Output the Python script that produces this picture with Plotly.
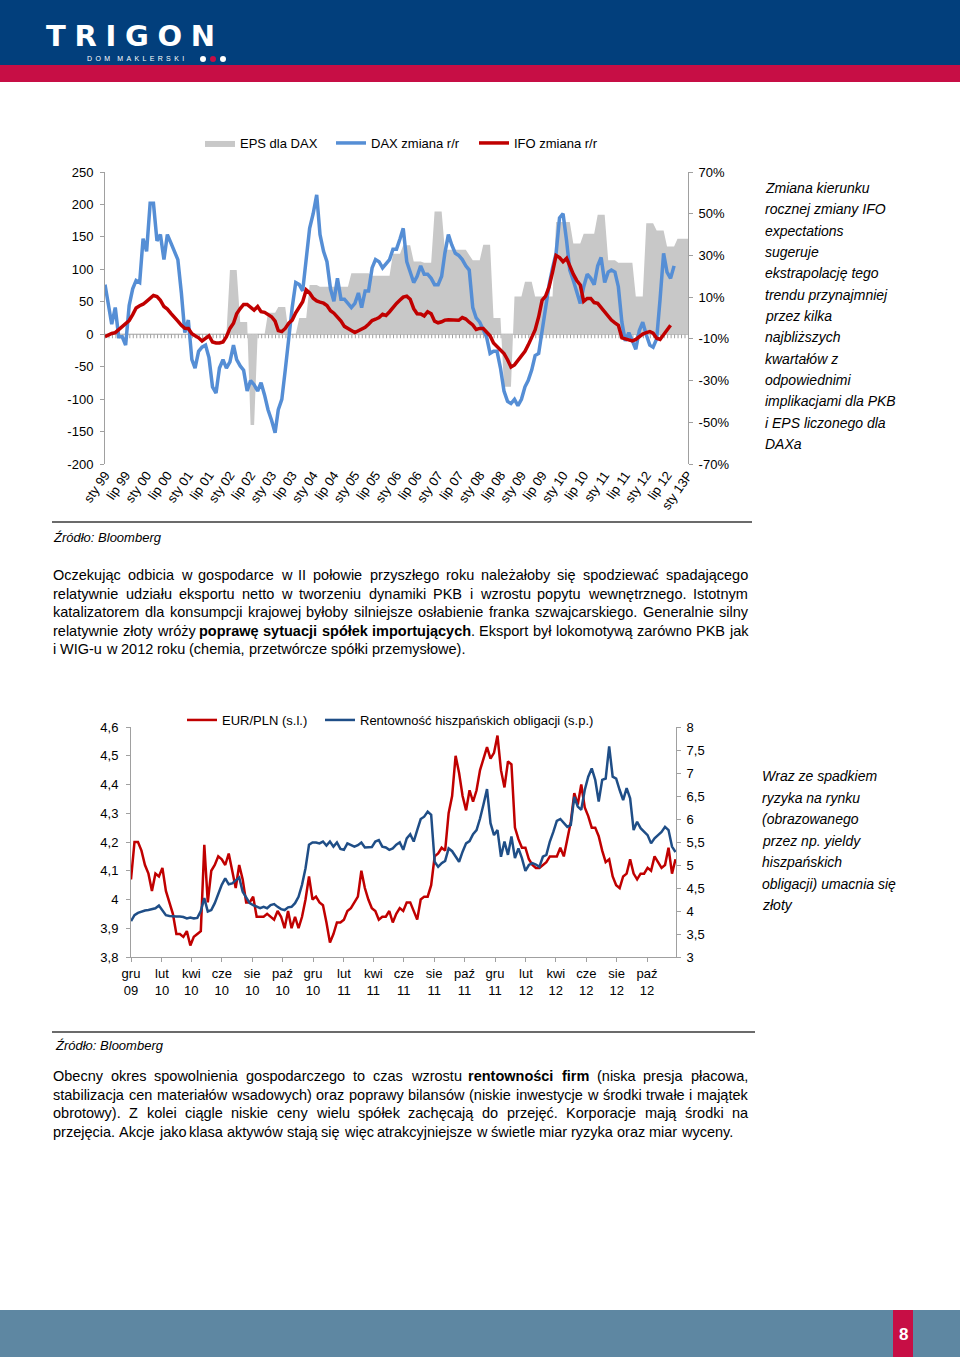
import plotly.graph_objects as go
import pandas as pd

W, H = 960, 1357
F = "Liberation Sans, Arial, sans-serif"

# ---------------- Chart 1 data (monthly) ----------------
ch1_start = "1999-01-01"
dax_yoy = [16, 5, -3, 5, -9, -9, -13, 6, 14, 18, 17, 38,
           32, 55, 55, 37, 40, 28, 40, 36, 32, 28, 12, -7,
           -1, -20, -24, -16, -14, -13, -19, -33, -36, -24, -20, -24,
           -21, -13, -20, -23, -25, -35, -30, -32, -35, -31, -37, -44,
           -49, -55, -44, -39, -25, -9, 5, 17, 16, 13, 28, 43,
           50, 59, 40, 32, 27, 14, 8, 19, 9, 9, 7, 5,
           7, 12, 5, 13, 13, 24, 28, 27, 24, 26, 28, 33,
           33, 38, 43, 27, 22, 17, 20, 25, 21, 21, 19, 16,
           16, 20, 31, 40, 35, 31, 30, 28, 25, 23, 5, 0,
           -2, -6, -9, -17, -16, -16, -24, -35, -40, -41, -39, -42,
           -39, -33, -30, -25, -18, -17, -6, 6, 16, 24, 31, 48,
           50, 37, 23, 18, 13, 7, 15, 21, 19, 16, 25, 29,
           17, 22, 23, 22, 15, -2, -11, -7, -11, -15, -6, -2,
           -8, -13, -14, -10, 9, 31, 22, 19, 25]
ifo_yoy = [-8.9, -8, -7.4, -7, -5.5, -4, -3, -1.2, 1.6, 4.8, 5.9, 6.6,
           8, 9.5, 10.8, 10.3, 8.5, 5.5, 4.3, 2.2, 0, -1.5, -3.5, -4.9,
           -5, -7.5, -8.5, -9.5, -11, -9.5, -8.5, -11.5, -12, -12, -11.5, -9,
           -5, -2.5, 2, 4.5, 6.5, 6.5, 5, 3.8, 5.5, 3, 2.7, 1.5,
           0.6, -1.5, -6, -6.5, -5, -2.5, -1, 2.5, 5, 7.8, 13.5, 12,
           9.5, 8.2, 7.6, 7.1, 6, 3.5, 2.3, 0.5, -1.5, -4, -4.8, -6,
           -7, -6.2, -5.5, -4.5, -3, -1.2, -0.6, 0.2, 1.8, 1.2, 3, 5.2,
           7, 8.6, 10, 10.5, 9, 4.5, 2, 1.9, 1, 3, 2, -1.5,
           -2.3, -1.8, -1, -0.8, -0.9, -0.9, -1.1, 0.2, -0.5, -2, -3.3, -5.5,
           -5, -5, -7, -8.5, -12, -13.5, -15.5, -17, -20, -23.5, -22.5, -20.5,
           -18.5, -16, -13, -9.5, -5.7, 0.6, 8.5, 10.5, 15, 22, 30, 29,
           27, 28.6, 24.6, 21, 18, 15.8, 8, 9.4, 9.4, 7.4, 7, 5,
           2.5, 1, -1, -2.3, -3.5, -9.5, -10, -10.5, -11, -10.3, -8.7, -7.7,
           -7, -6.5, -7.3, -9.7, -10.3, -8, -6, -3.5]
eps_start = "2001-12-01"
eps_dax = [0, 99, 99, 99, 19, 19, 19, -140, -140, 0, 0, 0,
           33, 33, 33, 42, 42, 42, 0, 0, 0, 25, 25, 25,
           76, 76, 76, 73, 73, 73, 73, 73, 73, 73, 73, 73,
           94, 94, 94, 94, 94, 94, 90, 90, 90, 90, 90, 90,
           124, 124, 124, 137, 137, 137, 112, 112, 112, 110, 110, 110,
           189, 189, 189, 130, 130, 130, 130, 130, 130, 130, 122, 114,
           114, 114, 138, 138, 138, 25, 25, 25, -81, -81, -81, 58,
           58, 58, 81, 81, 81, 58, 58, 58, 58, 58, 58, 173,
           173, 173, 173, 173, 140, 140, 140, 155, 155, 155, 155, 184,
           184, 184, 114, 114, 114, 110, 110, 110, 110, 110, 58, 58,
           58, 171, 171, 171, 160, 160, 160, 135, 135, 135, 147, 147,
           147, 147]
ch1_tick_labels = ["sty 99", "lip 99", "sty 00", "lip 00", "sty 01", "lip 01", "sty 02", "lip 02",
                   "sty 03", "lip 03", "sty 04", "lip 04", "sty 05", "lip 05", "sty 06", "lip 06",
                   "sty 07", "lip 07", "sty 08", "lip 08", "sty 09", "lip 09", "sty 10", "lip 10",
                   "sty 11", "lip 11", "sty 12", "lip 12", "sty 13P"]
ch1_left_ticks = [-200, -150, -100, -50, 0, 50, 100, 150, 200, 250]
ch1_right_ticks = [-70, -50, -30, -10, 10, 30, 50, 70]

# ---------------- Chart 2 data (weekly) ----------------
ch2_start = "2009-12-01"
eurpln = [4.07, 4.20, 4.20, 4.17, 4.12, 4.09, 4.03, 4.09, 4.08, 4.11,
          4.03, 3.99, 3.95, 3.88, 3.88, 3.87, 3.89, 3.84, 3.87, 3.88,
          3.89, 4.19, 3.99, 4.10, 4.12, 4.15, 4.14, 4.12, 4.16, 4.10,
          4.04, 4.12, 4.07, 3.99, 3.99, 4.01, 3.94, 3.94, 3.94, 3.95,
          3.94, 3.93, 3.96, 3.94, 3.90, 3.96, 3.90, 3.94, 3.90, 3.94,
          4.00, 4.08, 4.00, 4.01, 3.99, 3.98, 3.92, 3.85, 3.88, 3.92,
          3.92, 3.93, 3.96, 3.97, 3.99, 4.01, 4.10, 4.04, 4.00, 3.97,
          3.96, 3.93, 3.94, 3.94, 3.96, 3.92, 3.95, 3.97, 3.96, 3.99,
          3.99, 3.96, 3.93, 4.00, 4.01, 4.01, 4.05, 4.15, 4.16, 4.18,
          4.17, 4.30, 4.36, 4.50, 4.44, 4.36, 4.31, 4.38, 4.34, 4.38,
          4.45, 4.49, 4.53, 4.49, 4.51, 4.57, 4.45, 4.39, 4.48, 4.47,
          4.25, 4.21, 4.18, 4.18, 4.14, 4.12, 4.11, 4.11, 4.12, 4.13,
          4.15, 4.15, 4.15, 4.18, 4.15, 4.21, 4.27, 4.37, 4.33, 4.40,
          4.32, 4.29, 4.25, 4.25, 4.22, 4.17, 4.13, 4.14, 4.08, 4.05,
          4.04, 4.08, 4.09, 4.14, 4.09, 4.07, 4.09, 4.09, 4.11, 4.10,
          4.15, 4.13, 4.11, 4.12, 4.18, 4.09, 4.14]
spain_yield = [3.78, 3.91, 3.96, 3.99, 4.01, 4.02, 4.04, 4.06, 4.12, 4.02,
               3.91, 3.89, 3.88, 3.88, 3.88, 3.87, 3.84, 3.86, 3.84, 3.85,
               4.00, 4.28, 3.99, 4.02, 4.17, 4.38, 4.57, 4.71, 4.58, 4.60,
               4.67, 4.73, 4.42, 4.29, 4.17, 4.13, 4.09, 4.06, 4.09, 4.06,
               4.13, 4.15, 4.09, 4.04, 4.02, 4.08, 4.09, 4.17, 4.31, 4.57,
               4.93, 5.44, 5.49, 5.49, 5.47, 5.51, 5.42, 5.51, 5.40, 5.49,
               5.35, 5.33, 5.47, 5.43, 5.40, 5.43, 5.49, 5.38, 5.38, 5.39,
               5.51, 5.54, 5.40, 5.38, 5.33, 5.36, 5.44, 5.49, 5.33, 5.58,
               5.67, 5.51, 5.76, 6.00, 6.05, 6.16, 6.09, 5.07, 4.96, 5.04,
               5.09, 5.36, 5.30, 5.18, 5.07, 5.29, 5.47, 5.52, 5.67, 5.76,
               6.01, 6.32, 6.65, 5.91, 5.65, 5.76, 5.18, 5.51, 5.22, 5.62,
               5.15, 5.36, 5.15, 4.87, 5.00, 5.04, 5.01, 4.96, 5.18, 5.22,
               5.51, 5.72, 5.96, 6.00, 5.91, 5.83, 5.87, 6.48, 6.27, 6.20,
               6.63, 6.92, 7.10, 6.85, 6.38, 6.85, 6.88, 7.58, 6.92, 6.88,
               6.63, 6.41, 6.67, 6.45, 5.76, 5.94, 5.80, 5.72, 5.65, 5.47,
               5.58, 5.65, 5.72, 5.83, 5.76, 5.40, 5.28]
ch2_tick_labels = ["gru<br>09", "lut<br>10", "kwi<br>10", "cze<br>10", "sie<br>10", "paź<br>10",
                   "gru<br>10", "lut<br>11", "kwi<br>11", "cze<br>11", "sie<br>11", "paź<br>11",
                   "gru<br>11", "lut<br>12", "kwi<br>12", "cze<br>12", "sie<br>12", "paź<br>12"]
ch2_left_ticks = [3.8, 3.9, 4.0, 4.1, 4.2, 4.3, 4.4, 4.5, 4.6]
ch2_left_labels = ["3,8", "3,9", "4", "4,1", "4,2", "4,3", "4,4", "4,5", "4,6"]
ch2_right_ticks = [3, 3.5, 4, 4.5, 5, 5.5, 6, 6.5, 7, 7.5, 8]
ch2_right_labels = ["3", "3,5", "4", "4,5", "5", "5,5", "6", "6,5", "7", "7,5", "8"]

# ---------------- Text ----------------
side_text_1 = ["Zmiana kierunku", "rocznej zmiany IFO", "expectations", "sugeruje",
               "ekstrapolację tego", "trendu przynajmniej", "przez kilka", "najbliższych",
               "kwartałów z", "odpowiednimi", "implikacjami dla PKB", "i EPS liczonego dla", "DAXa"]
side_text_2 = ["Wraz ze spadkiem", "ryzyka na rynku", "(obrazowanego", "przez np. yieldy",
               "hiszpańskich", "obligacji) umacnia się", "złoty"]
para_1 = ["Oczekując odbicia w gospodarce w II połowie przyszłego roku należałoby się spodziewać spadającego",
          "relatywnie udziału eksportu netto w tworzeniu dynamiki PKB i wzrostu popytu wewnętrznego. Istotnym",
          "katalizatorem dla konsumpcji krajowej byłoby silniejsze osłabienie franka szwajcarskiego. Generalnie silny",
          "relatywnie złoty wróży **poprawę sytuacji spółek importujących**. Eksport był lokomotywą zarówno PKB jak",
          "i WIG-u w 2012 roku (chemia, przetwórcze spółki przemysłowe)."]
para_2 = ["Obecny okres spowolnienia gospodarczego to czas wzrostu **rentowności firm** (niska presja płacowa,",
          "stabilizacja cen materiałów wsadowych) oraz poprawy bilansów (niskie inwestycje w środki trwałe i majątek",
          "obrotowy). Z kolei ciągle niskie ceny wielu spółek zachęcają do przejęć. Korporacje mają środki na",
          "przejęcia. Akcje jako klasa aktywów stają się więc atrakcyjniejsze w świetle miar ryzyka oraz miar wyceny."]


def px(x):
    return x / W


def py(y):
    return 1 - y / H


# Arial / Liberation Sans advance widths (1/1000 em)
REG_W = {" ": 278, "(": 333, ")": 333, ",": 278, "-": 333, ".": 278, ":": 278,
         "A": 667, "B": 667, "C": 722, "D": 722, "E": 667, "F": 611, "G": 778, "H": 722, "I": 278,
         "J": 500, "K": 667, "L": 556, "M": 833, "N": 722, "O": 778, "P": 667, "R": 722, "S": 667,
         "T": 611, "U": 722, "W": 944, "X": 667, "Y": 667, "Z": 611,
         "a": 556, "b": 556, "c": 500, "d": 556, "e": 556, "f": 278, "g": 556, "h": 556, "i": 222,
         "j": 222, "k": 500, "l": 222, "m": 833, "n": 556, "o": 556, "p": 556, "q": 556, "r": 333,
         "s": 500, "t": 278, "u": 556, "v": 500, "w": 722, "x": 500, "y": 500, "z": 500,
         "ą": 556, "ć": 500, "ę": 556, "ł": 222, "ń": 556, "ó": 556, "ś": 500, "ź": 500, "ż": 500,
         "0": 556, "1": 556, "2": 556, "3": 556, "4": 556, "5": 556, "6": 556, "7": 556, "8": 556, "9": 556}
BOLD_W = {" ": 278, ".": 278, ",": 278,
          "a": 556, "b": 611, "c": 556, "d": 611, "e": 556, "f": 333, "g": 611, "h": 611, "i": 278,
          "j": 278, "k": 556, "l": 278, "m": 889, "n": 611, "o": 611, "p": 611, "r": 389, "s": 556,
          "t": 333, "u": 611, "w": 778, "y": 556, "z": 500, "ą": 556, "ć": 556, "ę": 556, "ł": 278,
          "ó": 611, "ś": 556}

annotations = []


def add_par(lines, x0, x1, y0, dy, size):
    bold = False
    for li, line in enumerate(lines):
        justify = li < len(lines) - 1
        items = []
        for w in line.split(" "):
            parts = w.split("**")
            html, width = "", 0.0
            for j, p in enumerate(parts):
                if j > 0:
                    bold = not bold
                if p:
                    tbl = BOLD_W if bold else REG_W
                    width += sum(tbl.get(c, 556) for c in p) * size / 1000
                    html += "<b>%s</b>" % p if bold else p
            items.append((html, width))
        total = sum(w for _, w in items)
        if justify and len(items) > 1:
            gap = (x1 - x0 - total) / (len(items) - 1)
        else:
            gap = REG_W[" "] * size / 1000
        x = x0
        y = y0 + li * dy
        for html, w in items:
            annotations.append(dict(xref="paper", yref="paper", x=px(x), y=py(y), xanchor="left",
                                    yanchor="middle", text=html, showarrow=False, borderpad=0,
                                    borderwidth=0, font=dict(family=F, size=size, color="#000000")))
            x += w + gap


add_par(para_1, 53, 748, 575, 18.6, 14.5)
add_par(para_2, 53, 748, 1076, 18.6, 14.5)

for k, t in enumerate(side_text_1):
    annotations.append(dict(xref="paper", yref="paper", x=px(764), y=py(188 + 21.33 * k), xanchor="left",
                            yanchor="middle", text="<i>%s</i>" % t, showarrow=False, borderpad=0,
                            font=dict(family=F, size=14, color="#000000")))
for k, t in enumerate(side_text_2):
    annotations.append(dict(xref="paper", yref="paper", x=px(761), y=py(776 + 21.5 * k), xanchor="left",
                            yanchor="middle", text="<i>%s</i>" % t, showarrow=False, borderpad=0,
                            font=dict(family=F, size=14, color="#000000")))
for (sx, sy) in [(52, 537), (54, 1045)]:
    annotations.append(dict(xref="paper", yref="paper", x=px(sx), y=py(sy), xanchor="left", yanchor="middle",
                            text="<i>Źródło: Bloomberg</i>", showarrow=False, borderpad=0,
                            font=dict(family=F, size=13, color="#000000")))

# header / footer text
TS = "\u2009\u200a"
annotations.append(dict(xref="paper", yref="paper", x=px(45), y=py(54.5), xanchor="left", yanchor="bottom",
                        text="<b>" + TS.join("TRIGON") + "</b>", showarrow=False, borderpad=0,
                        font=dict(family="DejaVu Sans", size=29, color="#FFFFFF")))
SP = "\u00a0\u2009"
annotations.append(dict(xref="paper", yref="paper", x=px(86), y=py(59), xanchor="left", yanchor="middle",
                        text=SP.join("DOM") + "\u00a0\u00a0\u00a0\u2009" + SP.join("MAKLERSKI"),
                        showarrow=False, borderpad=0,
                        font=dict(family=F, size=7, color="#FFFFFF")))
annotations.append(dict(xref="paper", yref="paper", x=px(903), y=py(1334), xanchor="center", yanchor="middle",
                        text="<b>8</b>", showarrow=False, borderpad=0,
                        font=dict(family=F, size=17, color="#FFFFFF")))

# ---------------- Traces ----------------
months = pd.date_range(ch1_start, periods=len(dax_yoy), freq="MS")
ifo_months = pd.date_range(ch1_start, periods=len(ifo_yoy), freq="MS")
eps_months = pd.date_range(eps_start, periods=len(eps_dax), freq="MS")
weeks = pd.date_range(ch2_start, periods=len(eurpln), freq="7D")
ch1_tickvals = pd.date_range(ch1_start, periods=len(ch1_tick_labels), freq="6MS")
ch2_tickvals = pd.date_range(ch2_start, periods=len(ch2_tick_labels), freq="2MS")

fig = go.Figure()
fig.add_trace(go.Scatter(x=eps_months, y=eps_dax, name="EPS dla DAX", mode="lines",
                         line=dict(width=0, color="#C8C8C8"), fill="tozeroy", fillcolor="#C8C8C8",
                         xaxis="x", yaxis="y", legend="legend", legendwidth=86))
fig.add_trace(go.Scatter(x=months, y=dax_yoy, name="DAX zmiana r/r", mode="lines",
                         line=dict(width=3.5, color="#558ED5"), xaxis="x", yaxis="y2",
                         legend="legend", legendwidth=98))
fig.add_trace(go.Scatter(x=ifo_months, y=ifo_yoy, name="IFO zmiana r/r", mode="lines",
                         line=dict(width=3.5, color="#C00000"), xaxis="x", yaxis="y2",
                         legend="legend", legendwidth=90))
fig.add_trace(go.Scatter(x=weeks, y=eurpln, name="EUR/PLN (s.l.)", mode="lines",
                         line=dict(width=2.5, color="#C00000"), xaxis="x2", yaxis="y3",
                         legend="legend2", legendwidth=93))
fig.add_trace(go.Scatter(x=weeks, y=spain_yield, name="Rentowność hiszpańskich obligacji (s.p.)",
                         mode="lines", line=dict(width=2.5, color="#1F4E87"), xaxis="x2", yaxis="y4",
                         legend="legend2"))

GRAY = "#A0A0A0"
tick_font = dict(family=F, size=13, color="#000000")

shapes = [
    dict(type="rect", xref="paper", yref="paper", x0=0, x1=1, y0=py(65), y1=1,
         fillcolor="#023F7C", line=dict(width=0), layer="below"),
    dict(type="rect", xref="paper", yref="paper", x0=0, x1=1, y0=py(82), y1=py(65),
         fillcolor="#C70E45", line=dict(width=0), layer="below"),
    dict(type="rect", xref="paper", yref="paper", x0=0, x1=1, y0=0, y1=py(1310),
         fillcolor="#5E87A2", line=dict(width=0), layer="below"),
    dict(type="rect", xref="paper", yref="paper", x0=px(893), x1=px(913), y0=0, y1=py(1310),
         fillcolor="#C70E45", line=dict(width=0), layer="below"),
    dict(type="line", xref="paper", yref="paper", x0=px(52), x1=px(752), y0=py(522), y1=py(522),
         line=dict(color="#3A3A3A", width=1.5)),
    dict(type="line", xref="paper", yref="paper", x0=px(52), x1=px(755), y0=py(1032), y1=py(1032),
         line=dict(color="#3A3A3A", width=1.5)),
    dict(type="line", xref="x", yref="y", x0=ch1_start, x1="2013-01-01", y0=0, y1=0,
         line=dict(color=GRAY, width=1), layer="below"),
    dict(type="line", xref="x", yref="y", x0=ch1_start, x1="2013-01-01", y0=-3.2, y1=-3.2,
         line=dict(color=GRAY, width=4, dash="1px,2.47px"), layer="below"),
]
for cx, col in [(203, "#FFFFFF"), (213, "#C70E45"), (223, "#FFFFFF")]:
    shapes.append(dict(type="circle", xref="paper", yref="paper", x0=px(cx - 3), x1=px(cx + 3),
                       y0=py(62), y1=py(56), fillcolor=col, line=dict(width=0)))

fig.update_layout(
    width=W, height=H, autosize=False,
    margin=dict(l=0, r=0, t=0, b=0, pad=0, autoexpand=False),
    paper_bgcolor="#FFFFFF", plot_bgcolor="rgba(0,0,0,0)",
    font=dict(family=F, size=13, color="#000000"),
    hovermode=False,
    xaxis=dict(domain=[px(105), px(688)], anchor="y", type="date",
               range=[ch1_start, "2013-01-01"], tickvals=ch1_tickvals, ticktext=ch1_tick_labels,
               tickangle=-55, showline=False, ticks="", showgrid=False, zeroline=False,
               tickfont=tick_font, automargin=False),
    yaxis=dict(domain=[py(464), py(172)], anchor="x", range=[-200, 250], tickvals=ch1_left_ticks,
               ticktext=[str(v) for v in ch1_left_ticks], ticklabelstandoff=4,
               ticks="outside", ticklen=4, tickcolor=GRAY, showline=True, linecolor=GRAY, linewidth=1,
               showgrid=False, zeroline=False, tickfont=tick_font, automargin=False),
    yaxis2=dict(overlaying="y", side="right", anchor="x", range=[-70, 70], tickvals=ch1_right_ticks,
                ticktext=["%d%%" % v for v in ch1_right_ticks], ticklabelstandoff=3,
                ticks="outside", ticklen=4, tickcolor=GRAY, showline=True, linecolor=GRAY, linewidth=1,
                showgrid=False, zeroline=False, tickfont=tick_font, automargin=False),
    xaxis2=dict(domain=[px(131), px(676)], anchor="y3", type="date",
                range=[ch2_start, "2012-11-28"], tickvals=ch2_tickvals, ticktext=ch2_tick_labels,
                tickangle=0, showline=True, linecolor=GRAY, linewidth=1, ticks="outside", ticklen=4,
                tickcolor=GRAY, showgrid=False, zeroline=False, tickfont=tick_font, automargin=False),
    yaxis3=dict(domain=[py(957), py(727)], anchor="x2", range=[3.8, 4.6], tickvals=ch2_left_ticks,
                ticktext=ch2_left_labels, ticklabelstandoff=5, ticks="outside", ticklen=4, tickcolor=GRAY,
                showline=True, linecolor=GRAY, linewidth=1, showgrid=False, zeroline=False,
                tickfont=tick_font, automargin=False),
    yaxis4=dict(overlaying="y3", side="right", anchor="x2", range=[3, 8], tickvals=ch2_right_ticks,
                ticktext=ch2_right_labels, ticklabelstandoff=3, ticks="outside", ticklen=4, tickcolor=GRAY,
                showline=True, linecolor=GRAY, linewidth=1, showgrid=False, zeroline=False,
                tickfont=tick_font, automargin=False),
    legend=dict(x=px(200), y=py(143), xanchor="left", yanchor="middle", orientation="h",
                font=dict(family=F, size=13, color="#000000"), bgcolor="rgba(0,0,0,0)",
                itemwidth=30, traceorder="normal", itemclick=False, itemdoubleclick=False),
    legend2=dict(x=px(182), y=py(720), xanchor="left", yanchor="middle", orientation="h",
                 font=dict(family=F, size=13, color="#000000"), bgcolor="rgba(0,0,0,0)",
                 itemwidth=30, traceorder="normal", itemclick=False, itemdoubleclick=False),
    shapes=shapes,
    annotations=annotations,
)

fig.write_html("out.html", include_plotlyjs=True, full_html=True,
               config={"displayModeBar": False, "responsive": False},
               post_script="document.body.style.margin='0';")
